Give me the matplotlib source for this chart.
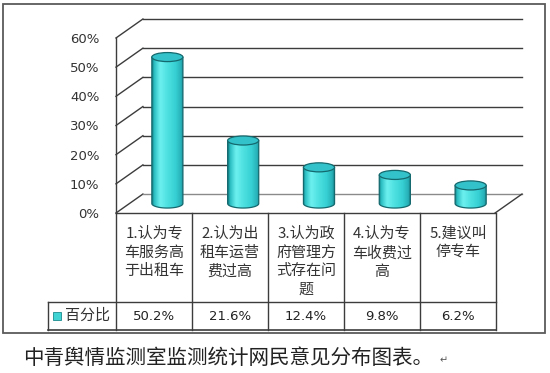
import matplotlib as mpl
import matplotlib.pyplot as plt
import numpy as np
from matplotlib.colors import LinearSegmentedColormap
from matplotlib.patches import Ellipse, Polygon, Rectangle

plt.rcParams["font.family"] = ["Noto Sans CJK SC", "DejaVu Sans"]

# data
categories = [
    "1.认为专\n车服务高\n于出租车",
    "2.认为出\n租车运营\n费过高",
    "3.认为政\n府管理方\n式存在问\n题",
    "4.认为专\n车收费过\n高",
    "5.建议叫\n停专车",
]
values = [50.2, 21.6, 12.4, 9.8, 6.2]
value_labels = ["50.2%", "21.6%", "12.4%", "9.8%", "6.2%"]
series_name = "百分比"
y_ticks = [0, 10, 20, 30, 40, 50, 60]
caption = "中青舆情监测室监测统计网民意见分布图表。"

# 3d look: depth offset of the back wall (category units, percent units)
DX, DY = 0.355, 6.5
LINE = "#3c3c3c"

fig = plt.figure(figsize=(5.5, 3.73), dpi=100)
W, H = 550.0, 373.0

# main plotting area: front-left corner at (116, 213) px
ax = fig.add_axes([116 / W, (H - 213) / H, 406 / W, 194 / H])
n = len(values)
x = np.arange(n)

# walls and floor
for lv in y_ticks:
    ax.plot([-0.5, -0.5 + DX], [lv, lv + DY], color=LINE, lw=1.0, clip_on=False)
    col = "#8a8a8a" if lv == 0 else LINE
    ax.plot([-0.5 + DX, n - 0.5 + DX], [lv + DY, lv + DY], color=col, lw=1.0, clip_on=False)
ax.plot([-0.5, -0.5], [0, y_ticks[-1]], color=LINE, lw=1.0, clip_on=False)
ax.plot([-0.5, n - 0.5], [0, 0], color=LINE, lw=1.0, clip_on=False)
ax.plot([n - 0.5, n - 0.5 + DX], [0, DY], color=LINE, lw=1.0, clip_on=False)

# cylinders
body_cmap = LinearSegmentedColormap.from_list("cyl", [
    (0.0, "#137f84"), (0.07, "#2cbfc3"), (0.25, "#6cf0ef"), (0.45, "#52e3e3"),
    (0.75, "#36cfd3"), (0.92, "#27afb6"), (1.0, "#157f88")])
grad = np.linspace(0, 1, 128).reshape(1, -1)
a, b = 0.205, 1.55
t = np.linspace(np.pi, 2 * np.pi, 40)
for xi, v in zip(x, values):
    cx, base = xi + DX / 2, DY / 2
    top = base + v
    pts = np.column_stack([cx + a * np.cos(t), base + b * np.sin(t)])
    pts = np.vstack([pts, [[cx + a, top], [cx - a, top]]])
    body = Polygon(pts, closed=True, facecolor="none", edgecolor="#14696e", lw=0.9, zorder=4)
    ax.add_patch(body)
    im = ax.imshow(grad, cmap=body_cmap, extent=(cx - a, cx + a, base - b, top),
                   aspect="auto", zorder=3, interpolation="bilinear")
    im.set_clip_path(body)
    ax.add_patch(Ellipse((cx, top), 2 * a, 2 * b, facecolor="#33c2c9",
                         edgecolor="#14696e", lw=0.9, zorder=5))

ax.set_xlim(-0.5, n - 0.5 + DX)
ax.set_ylim(0, y_ticks[-1] + DY)
ax.set_aspect("auto")
for s in ax.spines.values():
    s.set_visible(False)
ax.set_xticks([])
ax.set_yticks(y_ticks)
ax.set_yticklabels([f"{v}%" for v in y_ticks], fontsize=9.5, color="#333333",
                   family="DejaVu Sans")
ax.tick_params(axis="y", length=0, pad=12)

# data table below the floor
LABEL_W = 68 / 76
SPLIT = 28 / 117
tab = fig.add_axes([48 / W, (H - 330) / H, 448 / W, 117 / H])
tab.set_xlim(-0.5 - LABEL_W, n - 0.5)
tab.set_ylim(0, 1)
tab.axis("off")
for k in range(n + 1):
    tab.plot([k - 0.5, k - 0.5], [0, 1], color=LINE, lw=1.0, clip_on=False)
tab.plot([-0.5 - LABEL_W, -0.5 - LABEL_W], [0, SPLIT], color=LINE, lw=1.0, clip_on=False)
tab.plot([-0.5 - LABEL_W, n - 0.5], [SPLIT, SPLIT], color=LINE, lw=1.0, clip_on=False)
tab.plot([-0.5 - LABEL_W, n - 0.5], [0, 0], color=LINE, lw=1.2, clip_on=False)
for xi, cat, lab in zip(x, categories, value_labels):
    tab.text(xi, 0.885, cat, ha="center", va="top", fontsize=10.8,
             color="#333333", linespacing=1.42)
    tab.text(xi, SPLIT / 2, lab, ha="center", va="center", fontsize=9.5,
             color="#222222", family="DejaVu Sans")
tab.plot([-0.5 - LABEL_W + 0.12], [SPLIT / 2], marker="s", ms=5.5,
         mfc="#3fd3d3", mec="#1a8a8e", mew=0.6, clip_on=False)
tab.text(-0.5 - LABEL_W + 0.22, SPLIT / 2, series_name, ha="left", va="center",
         fontsize=10.8, color="#333333")

# chart border
fig.add_artist(Rectangle((3 / W, (H - 333) / H), 542 / W, 329 / H, fill=False,
                         edgecolor="#5a5a5a", lw=1.3, transform=fig.transFigure))

# caption under the chart
fig.text(23 / W, (H - 358) / H, caption, ha="left", va="center",
         fontsize=14.8, color="#222222")
fig.text(440 / W, (H - 360) / H, "↵", ha="left", va="center", fontsize=7,
         color="#555555")

fig.savefig("out.png", dpi=100, facecolor="white")
